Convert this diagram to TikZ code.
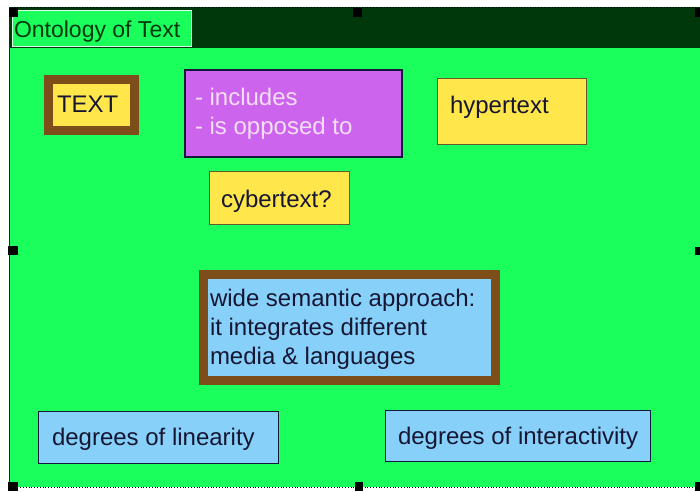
\documentclass[tikz,border=0pt]{standalone}
\usepackage{fontspec}
\setmainfont{Liberation Sans}
\definecolor{bodygreen}{RGB}{26,255,92}
\definecolor{bargreen}{RGB}{0,56,12}
\definecolor{boxyellow}{RGB}{255,230,75}
\definecolor{boxbrown}{RGB}{125,78,25}
\definecolor{boxblue}{RGB}{135,208,250}
\definecolor{boxpurple}{RGB}{205,100,238}
\definecolor{purpletext}{RGB}{245,222,245}
\definecolor{darktext}{RGB}{22,22,50}
\definecolor{yellowedge}{RGB}{105,90,45}
\definecolor{navyedge}{RGB}{20,25,60}
\begin{document}
\begin{tikzpicture}[x=1pt,y=-1pt,
  box/.style={anchor=north west,inner sep=0pt,outer sep=0pt},
  ybox/.style={box,fill=boxyellow,draw=yellowedge,line width=1pt},
  bbox/.style={box,fill=boxblue,draw=navyedge,line width=1pt},
  brownbox/.style={anchor=center,inner sep=0pt,outer sep=0pt,draw=boxbrown,line width=9pt},
  lbl/.style={anchor=base west,inner sep=0pt,outer sep=0pt,text=darktext,font=\fontsize{24}{29}\selectfont},
  handle/.style={fill=black}
]
\useasboundingbox (0,0) rectangle (700,491);
\fill[white] (0,0) rectangle (700,491);
% frame body
\fill[bodygreen] (9,7) rectangle (700,487);
\fill[bargreen] (9,7) rectangle (700,48);
\draw[black,line width=0.8pt,dotted] (9,7.5) -- (700,7.5);
\draw[black,line width=0.8pt,dotted] (9,487) -- (700,487);
\draw[bargreen,line width=1pt] (9.5,7) -- (9.5,487);
% title
\node[box,fill=bodygreen,draw=white!85!bodygreen,line width=1pt,minimum width=179pt,minimum height=36pt] (titlebox) at (12,10) {};
\node[lbl,text=bargreen,font=\fontsize{23}{28}\selectfont] (title) at (14,37) {Ontology of Text};
% TEXT
\node[brownbox,fill=boxyellow,minimum width=86pt,minimum height=50.5pt] (textbox) at (91.5,104.75) {};
\node[lbl] (textlbl) at (57,112) {TEXT};
% purple
\node[box,fill=boxpurple,draw=navyedge,line width=1.2pt,minimum width=217pt,minimum height=87pt] (purplebox) at (185,70) {};
\node[lbl,text=purpletext] (inc) at (195,105) {- includes};
\node[lbl,text=purpletext] (opp) at (195,134) {- is opposed to};
% hypertext
\node[ybox,minimum width=149pt,minimum height=66pt] (hyperbox) at (437,78) {};
\node[lbl] (hyperlbl) at (450,113) {hypertext};
% cybertext
\node[ybox,minimum width=140pt,minimum height=53pt] (cyberbox) at (209,171) {};
\node[lbl] (cyberlbl) at (221,207) {cybertext?};
% wide semantic
\node[brownbox,fill=boxblue,minimum width=292pt,minimum height=106pt] (widebox) at (349.5,327.5) {};
\node[lbl] (wide1) at (210,306) {wide semantic approach:};
\node[lbl] (wide2) at (210,335) {it integrates different};
\node[lbl] (wide3) at (210,364) {media \& languages};
% degrees
\node[bbox,minimum width=240pt,minimum height=52pt] (linbox) at (38,411) {};
\node[lbl] (linlbl) at (52,445) {degrees of linearity};
\node[bbox,minimum width=265pt,minimum height=51pt] (intbox) at (385,410) {};
\node[lbl] (intlbl) at (398,444) {degrees of interactivity};
% handles
\fill[handle] (9,8) rectangle (18,17);
\fill[handle] (353,8) rectangle (362,17);
\fill[handle] (695,8) rectangle (700,17);
\fill[handle] (8,246) rectangle (18,255);
\fill[handle] (695,247) rectangle (700,255);
\fill[handle] (8,482) rectangle (18,491);
\fill[handle] (355,482) rectangle (363,491);
\fill[handle] (695,482) rectangle (700,491);
\end{tikzpicture}
\end{document}
